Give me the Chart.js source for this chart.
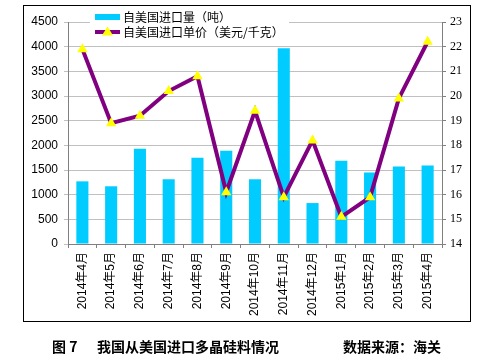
<!DOCTYPE html>
<html>
<head>
<meta charset="utf-8">
<script src="https://cdn.jsdelivr.net/npm/chart.js@4/dist/chart.umd.min.js"></script>
<style>
  body { margin: 0; background: #fff; }
  #wrap { position: relative; width: 492px; height: 361px; }
  canvas { position: absolute; left: 0; top: 0; }
  .cap { position: absolute; top: 336px; font-family: "Noto Sans CJK SC", sans-serif; font-weight: bold; font-size: 14px; color: #000; white-space: nowrap; }
</style>
</head>
<body>
<div id="wrap">
  <canvas id="c" width="492" height="361"></canvas>
  <div class="cap" style="left:52px">图 7</div>
  <div class="cap" style="left:97px">我国从美国进口多晶硅料情况</div>
  <div class="cap" style="left:343px">数据来源：海关</div>
</div>
<script>
// 月份
const months = ['2014年4月', '2014年5月', '2014年6月', '2014年7月', '2014年8月', '2014年9月', '2014年10月',
    '2014年11月', '2014年12月', '2015年1月', '2015年2月', '2015年3月', '2015年4月'];
// 进口量 (吨)
const volume = [1270, 1170, 1930, 1310, 1750, 1890, 1310, 3970, 830, 1690, 1450, 1570, 1590];
// 进口单价 (美元/千克)
const price = [21.9, 18.9, 19.2, 20.2, 20.8, 16.1, 19.4, 15.9, 18.2, 15.1, 15.9, 19.9, 22.2];
const volumeTicks = [0, 4500, 500];
const priceTicks = [14, 23, 1];

const BAR = '#00CCFF';
const LINE = '#800080';
const MARK = '#FFFF00';

// 图例 + 外框
const boxPlugin = {
    id: 'boxPlugin',
    afterDraw(chart) {
        const ctx = chart.ctx;
        ctx.save();
        // legend background
        ctx.fillStyle = '#fff';
        ctx.fillRect(90, 9, 199, 31);
        const ds = chart.data.datasets;
        ctx.font = '12px "Noto Sans CJK SC", sans-serif';
        ctx.textBaseline = 'middle';
        // item 1: bar
        ctx.fillStyle = ds[0].backgroundColor;
        ctx.fillRect(95, 14, 25, 6);
        ctx.fillStyle = '#000';
        ctx.fillText(ds[0].label, 123, 17);
        // item 2: line
        ctx.strokeStyle = ds[1].borderColor;
        ctx.lineWidth = 4;
        ctx.beginPath();
        ctx.moveTo(95, 32);
        ctx.lineTo(120, 32);
        ctx.stroke();
        ctx.fillStyle = ds[1].pointBackgroundColor;
        ctx.beginPath();
        ctx.moveTo(107.5, 26.5);
        ctx.lineTo(113, 35.5);
        ctx.lineTo(102, 35.5);
        ctx.closePath();
        ctx.fill();
        ctx.fillStyle = '#000';
        ctx.fillText(ds[1].label, 123, 32);
        // outer border
        ctx.strokeStyle = '#000';
        ctx.lineWidth = 1;
        ctx.strokeRect(23.5, 5.5, 447, 316);
        ctx.restore();
    }
};

new Chart(document.getElementById('c'), {
    data: {
        labels: months,
        datasets: [{
            type: 'bar',
            label: '自美国进口量（吨）',
            data: volume,
            yAxisID: 'y',
            backgroundColor: BAR,
            categoryPercentage: 1,
            barPercentage: 0.42,
            order: 1
        }, {
            type: 'line',
            label: '自美国进口单价（美元/千克）',
            data: price,
            yAxisID: 'y1',
            borderColor: LINE,
            borderWidth: 4,
            tension: 0,
            pointStyle: 'triangle',
            pointRadius: 6,
            pointBackgroundColor: MARK,
            pointBorderColor: MARK,
            pointBorderWidth: 0,
            order: 0
        }]
    },
    options: {
        responsive: false,
        animation: false,
        layout: { padding: { top: 22, left: 0, right: 0, bottom: 0 } },
        plugins: {
            legend: { display: false },
            tooltip: { enabled: false }
        },
        scales: {
            x: {
                offset: true,
                grid: { drawOnChartArea: false, drawTicks: true, tickLength: 4, color: '#808080', offset: true },
                border: { color: '#808080' },
                ticks: {
                    minRotation: 90, maxRotation: 90, padding: 4,
                    color: '#000',
                    font: { family: '"Liberation Sans", "Noto Sans CJK SC", sans-serif', size: 12 }
                },
                afterFit(s) { s.height = 117; }
            },
            y: {
                position: 'left',
                min: volumeTicks[0], max: volumeTicks[1],
                ticks: {
                    stepSize: volumeTicks[2], padding: 6, color: '#000',
                    font: { family: '"Liberation Sans", sans-serif', size: 12 },
                    callback: v => String(v)
                },
                grid: { color: '#C0C0C0', tickLength: 4 },
                border: { color: '#808080' },
                afterFit(s) { s.width = 68; }
            },
            y1: {
                position: 'right',
                min: priceTicks[0], max: priceTicks[1],
                ticks: {
                    stepSize: priceTicks[2], padding: 4, color: '#000',
                    font: { family: '"Liberation Serif", serif', size: 12 },
                    callback: v => String(v)
                },
                grid: { drawOnChartArea: false, color: '#808080', tickLength: 4 },
                border: { color: '#808080' },
                afterFit(s) { s.width = 50; }
            }
        }
    },
    plugins: [boxPlugin]
});
</script>
</body>
</html>
